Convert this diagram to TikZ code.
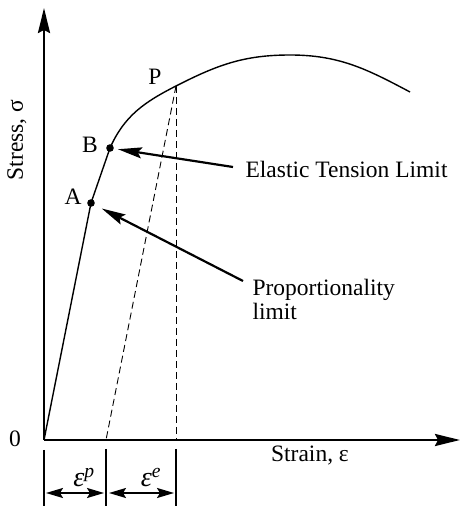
\documentclass[tikz,border=0pt]{standalone}
\usepackage{fontspec}
\setmainfont{Liberation Serif}
\usetikzlibrary{arrows.meta,positioning}

\begin{document}
\begin{tikzpicture}[>=Stealth,x=1pt,y=1pt,font=\fontsize{23.5}{24}\selectfont,
  axis/.style={line width=2.4pt,-{Stealth[length=25pt,width=12pt,inset=3pt]}},
  callout/.style={line width=2.2pt,-{Stealth[length=24pt,width=11pt,inset=4pt]}},
  dim/.style={line width=1.8pt,{Stealth[length=17pt,width=10pt,inset=3pt]}-{Stealth[length=17pt,width=10pt,inset=3pt]}},
  guide/.style={line width=0.9pt,dash pattern=on 7pt off 4pt}]
\useasboundingbox (-44,-66) rectangle (419,440);
% points on the curve
\coordinate (O) at (0,0);
\coordinate (A) at (47,237);
\coordinate (B) at (66,292);
\coordinate (P) at (132,354);
\coordinate (top) at (246,385);
\coordinate (tail) at (366,348);
\coordinate (Pp) at (62,0);
\coordinate (Pe) at (132,0);
% axes
\draw[axis] (O) -- (0,432) coordinate (ytip);
\draw[axis] (O) -- (416,0) coordinate (xtip);
\node (zero) at (-29,1) {0};
\node[rotate=90] (stress) at (-27,300) {Stress, σ};
\node (strain) at (266,-16) {Strain, ε};
% stress-strain curve
\draw[line width=1.4pt] (O) -- (A) -- (B) to[out=66,in=207] (P) to[out=27,in=180] (top) to[out=0,in=152] (tail);
\fill (A) circle (3.8) (B) circle (3.8);
\node (labA) at (29,243) {A};
\node (labB) at (46,295) {B};
\node (labP) at (111,363) {P};
% unloading
\draw[guide] (P) -- (Pp);
\draw[guide] (P) -- (Pe);
% callouts
\node[anchor=west] (etl) at (198,271) {Elastic Tension Limit};
\node[anchor=west,align=left] (prop) at (205,141) {Proportionality\\limit};
\draw[callout,shorten >=8pt] (etl.west) ++(-9,2) -- (B);
\draw[callout,shorten >=12pt] (prop.west) ++(-6,18) -- (A);
% strain parts
\draw[line width=1.8pt] (0,-10) -- (0,-66) (Pp) ++(0,-9) -- ++(0,-57) (Pe) ++(0,-9) -- ++(0,-57);
\draw[dim] (2,-53) coordinate (d1) -- (60,-53) coordinate (d2);
\draw[dim] (65,-53) coordinate (d3) -- (130,-53) coordinate (d4);
\node[font=\fontsize{28}{30}\selectfont] (ep) at (40,-38) {\itshape ε\textsuperscript{p}};
\node[font=\fontsize{28}{30}\selectfont] (ee) at (107,-38) {\itshape ε\textsuperscript{e}};
\end{tikzpicture}
\end{document}
